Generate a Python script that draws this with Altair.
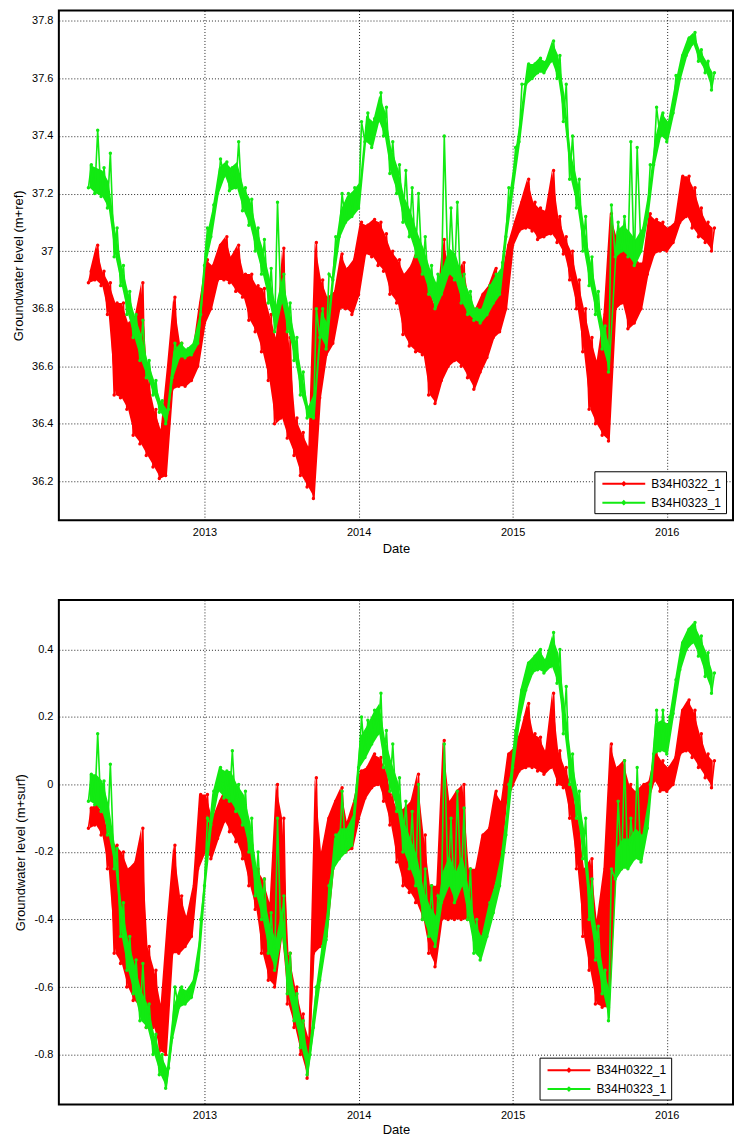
import altair as alt
import pandas as pd

SERIES = ["B34H0322_1", "B34H0323_1"]
COLORS = ["#ff0000", "#12ea12"]

# half-month bins starting 2012-04-01 (days 1 and 16 of each month), 98 bins
# each bin: low value (bin start) and high value (7 days later)

# ---- top panel: Groundwater level (m+ref)
red_top_lo = [36.89, 36.90, 36.88, 36.78, 36.50, 36.49, 36.45, 36.36, 36.33, 36.29,
              36.25, 36.21, 36.22, 36.52, 36.53, 36.53, 36.55, 36.60, 36.75, 36.80,
              36.90, 36.90, 36.89, 36.86, 36.84, 36.76, 36.72, 36.65, 36.55, 36.40,
              36.42, 36.35, 36.29, 36.22, 36.18, 36.14, 36.49, 36.64, 36.68, 36.80,
              36.80, 36.78, 36.85, 36.99, 36.98, 36.95, 36.93, 36.85, 36.82, 36.71,
              36.67, 36.65, 36.64, 36.50, 36.47, 36.55, 36.60, 36.62, 36.60, 36.56,
              36.52, 36.58, 36.63, 36.70, 36.72, 36.80, 37.02, 37.07, 37.08, 37.07,
              37.04, 37.05, 37.06, 37.03, 36.99, 36.90, 36.80, 36.65, 36.45, 36.40,
              36.36, 36.34, 36.80, 36.82, 36.73, 36.75, 36.80, 36.92, 36.99, 37.00,
              37.00, 37.03, 37.10, 37.12, 37.08, 37.05, 37.03, 37.00]
red_top_hi = [36.93, 37.02, 36.93, 36.89, 36.82, 36.82, 36.75, 36.77, 36.89, 36.56,
              36.45, 36.38, 36.60, 36.84, 36.68, 36.64, 36.66, 36.82, 36.97, 36.95,
              37.02, 37.05, 36.98, 37.02, 36.92, 36.92, 36.88, 36.87, 36.78, 36.70,
              37.01, 36.70, 36.42, 36.37, 36.32, 37.03, 36.90, 36.84, 36.86, 36.99,
              36.94, 36.97, 37.10, 37.09, 37.11, 37.10, 37.06, 37.00, 36.97, 36.92,
              36.95, 37.01, 36.94, 36.85, 36.80, 37.04, 36.94, 36.92, 36.96, 36.84,
              36.80, 36.85, 36.88, 36.94, 36.90, 37.02, 37.10, 37.17, 37.25, 37.17,
              37.15, 37.14, 37.28, 37.12, 37.05, 37.00, 36.90, 36.80, 36.70, 36.62,
              36.78, 37.13, 37.05, 37.05, 37.03, 36.96, 36.96, 37.13, 37.11, 37.10,
              37.08, 37.10, 37.26, 37.26, 37.22, 37.15, 37.10, 37.08]
green_top_lo = [37.22, 37.20, 37.19, 37.15, 36.98, 36.88, 36.78, 36.70, 36.62, 36.56,
                36.50, 36.44, 36.40, 36.56, 36.63, 36.63, 36.64, 36.68, 36.95, 37.05,
                37.20, 37.26, 37.21, 37.22, 37.14, 37.09, 37.00, 36.92, 36.82, 36.72,
                36.82, 36.72, 36.62, 36.50, 36.42, 36.42, 36.70, 36.66, 36.90, 37.05,
                37.10, 37.12, 37.15, 37.38, 37.36, 37.45, 37.40, 37.27, 37.20, 37.10,
                37.05, 36.98, 36.92, 36.85, 36.80, 36.85, 36.92, 36.90, 36.82, 36.78,
                36.76, 36.75, 36.78, 36.82, 36.85, 37.05, 37.22, 37.38, 37.58, 37.60,
                37.62, 37.62, 37.66, 37.60, 37.45, 37.25, 37.15, 37.00, 36.88, 36.78,
                36.66, 36.58, 36.98, 37.00, 36.98, 36.95, 37.00, 37.12, 37.30, 37.40,
                37.38, 37.48, 37.60, 37.68, 37.72, 37.66, 37.62, 37.56]
green_top_hi = [37.30, 37.42, 37.29, 37.34, 37.08, 36.95, 36.86, 36.78, 36.76, 36.62,
                36.55, 36.48, 36.45, 36.68, 36.68, 36.66, 36.68, 36.78, 37.08, 37.16,
                37.32, 37.31, 37.29, 37.38, 37.22, 37.18, 37.08, 37.04, 36.94, 37.17,
                36.92, 36.82, 36.70, 36.58, 36.46, 36.80, 36.80, 36.92, 37.05, 37.20,
                37.20, 37.22, 37.45, 37.48, 37.46, 37.55, 37.50, 37.38, 37.30, 37.28,
                37.22, 37.20, 37.05, 36.95, 36.92, 37.40, 37.15, 37.17, 36.92, 36.86,
                36.80, 36.80, 36.88, 36.92, 36.96, 37.22, 37.36, 37.58, 37.65, 37.65,
                37.67, 37.66, 37.73, 37.68, 37.58, 37.40, 37.25, 37.12, 36.98, 36.86,
                36.74, 37.16, 37.10, 37.12, 37.38, 37.36, 37.08, 37.30, 37.50, 37.48,
                37.45, 37.61, 37.68, 37.74, 37.76, 37.70, 37.66, 37.62]

# ---- bottom panel: Groundwater level (m+surf)
red_bot_lo = [-0.13, -0.12, -0.15, -0.25, -0.50, -0.53, -0.60, -0.64, -0.66, -0.72,
              -0.72, -0.79, -0.80, -0.50, -0.50, -0.48, -0.45, -0.25, -0.20, -0.22,
              -0.16, -0.11, -0.14, -0.17, -0.22, -0.30, -0.37, -0.50, -0.58, -0.60,
              -0.45, -0.65, -0.72, -0.80, -0.87, -0.50, -0.48, -0.45, -0.25, -0.20,
              -0.20, -0.19, -0.10, -0.04, -0.01, 0.00, -0.05, -0.12, -0.23, -0.30,
              -0.32, -0.35, -0.40, -0.50, -0.54, -0.40, -0.40, -0.40, -0.40, -0.40,
              -0.45, -0.45, -0.40, -0.30, -0.25, -0.05, 0.00, 0.04, 0.05, 0.05,
              0.04, 0.03, 0.05, 0.00, -0.01, -0.10, -0.25, -0.45, -0.55, -0.65,
              -0.66, -0.66, -0.25, -0.25, -0.22, -0.20, -0.22, -0.05, 0.01, -0.02,
              -0.02, 0.00, 0.09, 0.10, 0.08, 0.05, 0.02, -0.01]
red_bot_hi = [-0.07, -0.06, -0.08, -0.15, -0.18, -0.20, -0.25, -0.23, -0.13, -0.48,
              -0.55, -0.65, -0.40, -0.18, -0.33, -0.39, -0.30, -0.03, -0.03, -0.10,
              -0.05, -0.01, -0.05, -0.07, -0.10, -0.18, -0.25, -0.28, -0.35, 0.00,
              -0.10, -0.50, -0.60, -0.68, -0.75, 0.02, -0.20, -0.10, -0.05, -0.01,
              -0.11, -0.05, 0.04, 0.05, 0.09, 0.08, 0.05, -0.03, -0.08, -0.07,
              -0.05, 0.03, -0.15, -0.30, -0.30, 0.13, -0.05, -0.02, 0.00, -0.25,
              -0.25, -0.15, -0.13, -0.02, -0.05, 0.09, 0.11, 0.16, 0.24, 0.15,
              0.14, 0.10, 0.27, 0.10, 0.05, 0.00, -0.10, -0.25, -0.22, -0.40,
              -0.25, 0.12, 0.05, 0.07, 0.00, -0.02, 0.00, 0.01, 0.10, 0.07,
              0.05, 0.08, 0.22, 0.25, 0.22, 0.15, 0.09, 0.07]
green_bot_lo = [-0.05, -0.06, -0.08, -0.15, -0.25, -0.45, -0.55, -0.62, -0.70, -0.72,
                -0.80, -0.86, -0.90, -0.75, -0.66, -0.65, -0.63, -0.55, -0.30, -0.12,
                -0.02, -0.04, -0.05, -0.08, -0.12, -0.20, -0.33, -0.40, -0.50, -0.55,
                -0.45, -0.62, -0.70, -0.78, -0.86, -0.72, -0.58, -0.46, -0.25, -0.22,
                -0.20, -0.18, 0.05, 0.08, 0.12, 0.15, 0.05, -0.02, -0.08, -0.20,
                -0.25, -0.30, -0.40, -0.45, -0.48, -0.35, -0.30, -0.35, -0.30, -0.40,
                -0.50, -0.52, -0.45, -0.38, -0.30, -0.15, 0.05, 0.19, 0.28, 0.33,
                0.34, 0.33, 0.35, 0.30, 0.15, 0.00, -0.10, -0.22, -0.40, -0.52,
                -0.62, -0.70, -0.28, -0.25, -0.25, -0.22, -0.23, -0.13, 0.09, 0.10,
                0.09, 0.21, 0.34, 0.40, 0.42, 0.38, 0.32, 0.27]
green_bot_hi = [0.03, 0.15, 0.01, 0.06, -0.19, -0.35, -0.45, -0.52, -0.53, -0.65,
                -0.74, -0.80, -0.84, -0.60, -0.60, -0.61, -0.58, -0.40, -0.10, -0.02,
                0.05, 0.04, 0.10, 0.00, -0.02, -0.10, -0.20, -0.28, -0.38, -0.10,
                -0.33, -0.50, -0.62, -0.70, -0.80, -0.60, -0.48, -0.30, -0.15, -0.02,
                -0.13, -0.05, 0.20, 0.19, 0.22, 0.27, 0.16, 0.12, 0.02, -0.05,
                -0.08, 0.00, -0.25, -0.30, -0.33, 0.12, -0.10, -0.02, -0.07, -0.25,
                -0.40, -0.45, -0.35, -0.30, -0.20, 0.00, 0.16, 0.28, 0.36, 0.38,
                0.40, 0.37, 0.45, 0.40, 0.29, 0.09, -0.02, -0.10, -0.28, -0.42,
                -0.55, -0.25, -0.05, 0.07, -0.10, 0.05, -0.15, 0.00, 0.22, 0.22,
                0.20, 0.31, 0.42, 0.46, 0.48, 0.44, 0.39, 0.33]

TOP_TICKS = [36.2, 36.4, 36.6, 36.8, 37.0, 37.2, 37.4, 37.6, 37.8]
BOT_TICKS = [-0.8, -0.6, -0.4, -0.2, 0.0, 0.2, 0.4]
YEARS = [2013, 2014, 2015, 2016]
# the dense-sample band is drawn up to this width above the low value; thin spikes
# beyond it are left to the sample line itself (None = full band)
BAND_CAP = {SERIES[0]: None, SERIES[1]: 0.09}


def bin_starts(n):
    out = []
    y, m = 2012, 4
    while len(out) < n:
        for d in (1, 16):
            if len(out) < n:
                out.append(pd.Timestamp(y, m, d))
        m += 1
        if m > 12:
            m, y = 1, y + 1
    return out


def zig_rows(lo, hi, name):
    r = []
    for t, a, b in zip(bin_starts(len(lo)), lo, hi):
        r.append({"date": t, "value": a, "series": name})
        r.append({"date": t + pd.Timedelta(days=7), "value": b, "series": name})
    return r


def band_rows(lo, hi, name):
    cap = BAND_CAP[name]
    return [{"date": t + pd.Timedelta(days=3), "lo": a,
             "hi": b if cap is None else min(b, a + cap), "series": name}
            for t, a, b in zip(bin_starts(len(lo)), lo, hi)]


FONT = "Liberation Sans"
XDOM = [alt.DateTime(year=2012, month=1, date=22), alt.DateTime(year=2016, month=6, date=6)]
LEGEND_PATH = "M-3,0L3,0M0,-0.2L0.2,0L0,0.2L-0.2,0Z"


def panel(lo_r, hi_r, lo_g, hi_g, ytitle, ydom, yticks, height, lx, ly, lpad, tpad):
    zig = pd.DataFrame(zig_rows(lo_r, hi_r, SERIES[0]) + zig_rows(lo_g, hi_g, SERIES[1]))
    band = pd.DataFrame(band_rows(lo_r, hi_r, SERIES[0]) + band_rows(lo_g, hi_g, SERIES[1]))

    xenc = alt.X("date:T",
                 scale=alt.Scale(domain=XDOM),
                 axis=alt.Axis(values=[alt.DateTime(year=y, month=1, date=1) for y in YEARS],
                               format="%Y", title="Date", grid=True, ticks=False,
                               domain=False, labelPadding=lpad, titlePadding=tpad))
    yscale = alt.Scale(domain=ydom, nice=False, zero=False)
    yenc = alt.Y("value:Q", scale=yscale,
                 axis=alt.Axis(values=yticks, title=ytitle, grid=True, ticks=False,
                               domain=False, labelPadding=6, titlePadding=6,
                               labelExpr="'' + round(datum.value*10)/10"))
    cenc = alt.Color("series:N",
                     scale=alt.Scale(domain=SERIES, range=COLORS),
                     legend=alt.Legend(title=None, orient="none", legendX=lx, legendY=ly,
                                       symbolType=LEGEND_PATH, symbolSize=205,
                                       symbolStrokeWidth=2, symbolOffset=17,
                                       labelOffset=19))
    layers = []
    for name, col in zip(SERIES, COLORS):
        area = alt.Chart(band).transform_filter(alt.datum.series == name).mark_area(
            color=col, opacity=1
        ).encode(
            x=alt.X("date:T"),
            y=alt.Y("lo:Q", scale=yscale),
            y2="hi:Q",
        )
        line = alt.Chart(zig).transform_filter(alt.datum.series == name).mark_line(
            strokeWidth=1.6,
            point=alt.OverlayMarkDef(filled=True, size=12),
        ).encode(x=xenc, y=yenc, color=cenc)
        layers += [area, line]
    return alt.layer(*layers).properties(width=676, height=height)


top = panel(red_top_lo, red_top_hi, green_top_lo, green_top_hi,
            "Groundwater level (m+ref)", [36.065, 37.836], TOP_TICKS, 511, 537, 462, 6, 5)
bot = panel(red_bot_lo, red_bot_hi, green_bot_lo, green_bot_hi,
            "Groundwater level (m+surf)", [-0.948, 0.5465], BOT_TICKS, 506, 482, 459, 5, 3)

chart = alt.vconcat(top, bot, spacing=43).resolve_scale(color="independent").resolve_legend(
    color="independent"
).properties(
    padding={"left": 3, "top": 0, "right": 0, "bottom": 0}
).configure(
    font=FONT,
    padding={"left": 3, "top": 0, "right": 0, "bottom": 0},
).configure_view(
    stroke="black", strokeWidth=2
).configure_axis(
    labelFont=FONT, labelFontSize=11, labelColor="black",
    titleFont=FONT, titleFontSize=13, titleFontWeight="normal", titleColor="black",
    gridColor="black", gridDash=[1, 2], gridOpacity=0.85, gridWidth=1,
).configure_legend(
    labelFont=FONT, labelFontSize=12, labelColor="black",
    fillColor="white", strokeColor="black", padding=4, rowPadding=4,
    cornerRadius=0,
)

chart.save("out.html", embed_options={"renderer": "svg", "actions": False})
